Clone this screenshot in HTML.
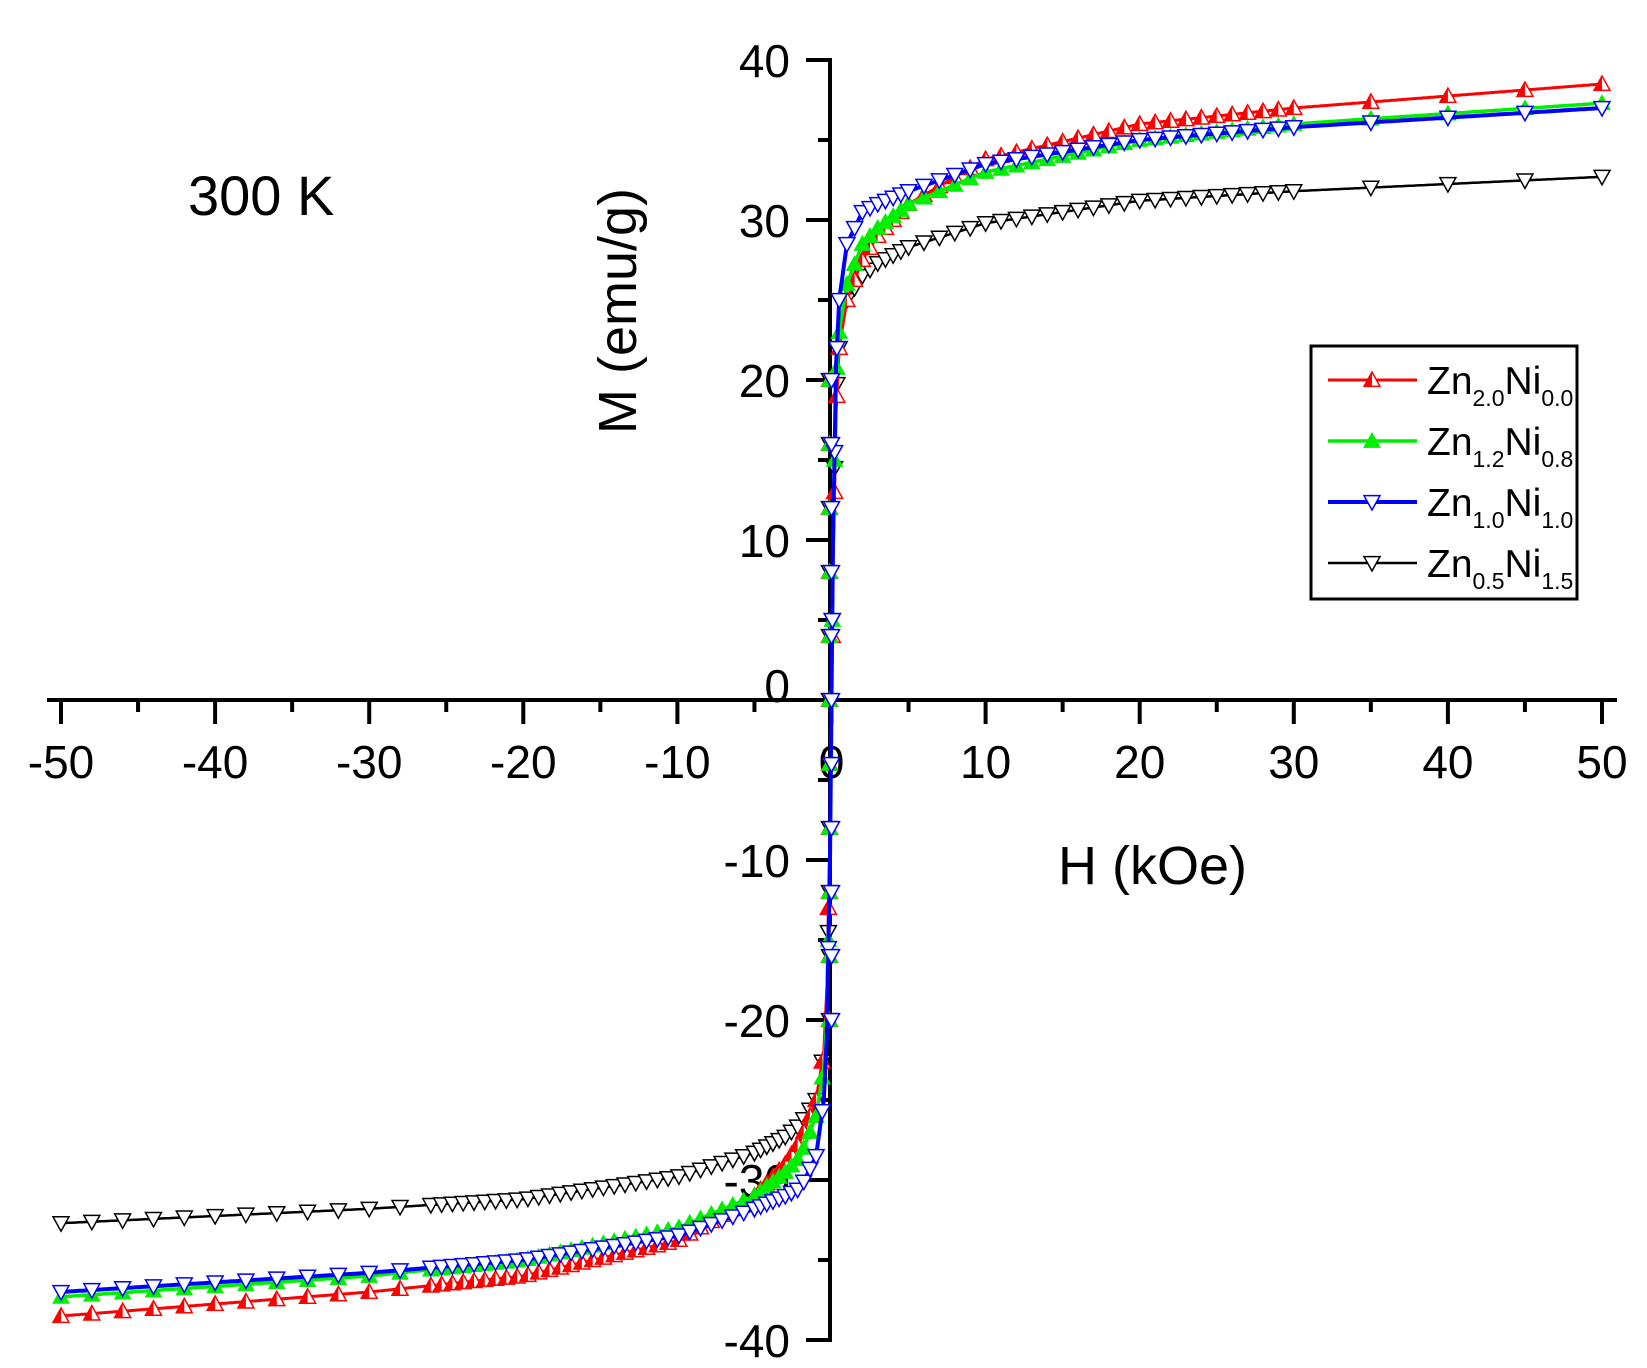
<!DOCTYPE html>
<html><head><meta charset="utf-8"><style>
html,body{margin:0;padding:0;background:#fff;}
svg{display:block;}
text{font-family:"Liberation Sans",sans-serif;fill:#000;}
</style></head><body>
<svg id="s" xmlns="http://www.w3.org/2000/svg" width="1647" height="1368" viewBox="0 0 1647 1368">
<rect width="1647" height="1368" fill="#fff"/>
<g id="axes"></g>
<g id="data"></g>
<text x="188" y="215" font-size="56">300 K</text>
<text x="1058" y="884" font-size="54">H (kOe)</text>
<text transform="translate(636,311) rotate(-90)" font-size="54" text-anchor="middle">M (emu/g)</text>
<g id="legend">
<rect x="1311" y="346" width="266" height="253" fill="#fff" stroke="#000" stroke-width="3"/>
</g>
</svg>
<script>
const NS="http://www.w3.org/2000/svg";
function el(p,t,a){const e=document.createElementNS(NS,t);for(const k in a)e.setAttribute(k,a[k]);p.appendChild(e);return e;}
const X0=831.5,SX=15.41,Y0=700,SY=16;
const px=h=>X0+h*SX, py=m=>Y0-m*SY;
const ax=document.getElementById('axes');
el(ax,'line',{x1:47,y1:700,x2:1617,y2:700,stroke:'#000','stroke-width':4});
el(ax,'line',{x1:830,y1:58,x2:830,y2:1342,stroke:'#000','stroke-width':4});
for(let h=-50;h<=50;h+=5){const x=px(h);const maj=h%10===0;
 el(ax,'line',{x1:x,y1:700,x2:x,y2:maj?724:712,stroke:'#000','stroke-width':4});
 if(maj){const t=el(ax,'text',{x:x,y:778,'font-size':46,'text-anchor':'middle'});t.textContent=String(h);}}
for(let m=-40;m<=40;m+=5){const y=py(m);const maj=m%10===0;
 el(ax,'line',{x1:maj?806:818,y1:y,x2:830,y2:y,stroke:'#000','stroke-width':4});
 if(maj){const t=el(ax,'text',{x:790,y:y+(m===0?2:17),'font-size':46,'text-anchor':'end'});t.textContent=String(m);}}
const H=[0,0.1,0.3,0.5,1,2,3,5,10,20,30,50];
const S={
red:[0,8,18,22,25,27.5,29,31,33.8,36,37,38.5],
green:[0,10,20,23,26,28.5,29.5,31,33,35,36,37.3],
blue:[0,10,21,25,28.5,30.5,31,31.8,33.5,35,35.8,37],
black:[0,10,19,22,25,26.5,27.3,28.3,29.8,31.2,31.8,32.7]};
function f(v,h){const a=Math.abs(h),s=h<0?-1:1;for(let i=1;i<H.length;i++){if(a<=H[i]){const t=(a-H[i-1])/(H[i]-H[i-1]);return s*(v[i-1]+t*(v[i]-v[i-1]));}}return s*v[v.length-1];}
let pts=[];
for(let h=0.05;h<0.5;h+=0.15)pts.push(h);
for(let h=0.5;h<5;h+=0.5)pts.push(h);
for(let h=5;h<30;h+=1)pts.push(h);
for(let h=30;h<=50;h+=5)pts.push(h);
let neg=[];
for(let h=-50;h<-26;h+=2)neg.push(h);
for(let h=-26;h<-5;h+=0.7)neg.push(h);
for(let h=-5;h<0;h+=0.4)neg.push(h);
const all=neg.concat(pts);
const d=document.getElementById('data');
function marker(g,x,y,type,color){
 const r=8;
 if(type==='up'||type==='upf'||type==='uph'){
  const p=`${x},${y-r} ${x+r},${y+r*0.8} ${x-r},${y+r*0.8}`;
  if(type==='uph'){el(g,'polygon',{points:p,fill:'#fff',stroke:color,'stroke-width':1.5});
   el(g,'polygon',{points:`${x},${y-r} ${x},${y+r*0.8} ${x-r},${y+r*0.8}`,fill:color});}
  else el(g,'polygon',{points:p,fill:color,stroke:color,'stroke-width':1});
 } else {
  const p=`${x},${y+r} ${x+r},${y-r*0.8} ${x-r},${y-r*0.8}`;
  el(g,'polygon',{points:p,fill:'#fff',stroke:color,'stroke-width':1.5});
 }}
const ser=[['black','#000','down',2.5],['red','#f00','uph',3],['green','#0e0','upf',3.5],['blue','#00f','down',4]];
for(const [k,c,t,w] of ser){
 const g=el(d,'g',{});
 let dd='';
 const dense=[];for(let h=-50;h<=50;h+=0.1)dense.push(Math.abs(h)<0.02?0:h);
 dense.forEach((h,i)=>{dd+=(i?'L':'M')+px(h).toFixed(1)+','+py(f(S[k],h)).toFixed(1);});
 el(g,'path',{d:dd,fill:'none',stroke:c,'stroke-width':w});
 for(const h of all)marker(g,px(h),py(f(S[k],h)),t,c);
 for(let m=-20;m<=20;m+=4){
  marker(g,px(0)+(k==='blue'?0:-2),py(m),t,c);}
}
const lg=document.getElementById('legend');
const names=[['2.0','0.0'],['1.2','0.8'],['1.0','1.0'],['0.5','1.5']];
const lc=[['#f00','uph',3],['#0e0','upf',3.5],['#00f','down',4],['#000','down',2.5]];
for(let i=0;i<4;i++){const y=380+i*61;
 el(lg,'line',{x1:1328,y1:y,x2:1417,y2:y,stroke:lc[i][0],'stroke-width':lc[i][2]});
 marker(lg,1372,y,lc[i][1],lc[i][0]);
 const t=el(lg,'text',{x:1427,y:y+14,'font-size':39});
 t.innerHTML=`Zn<tspan font-size="23" dy="12">${names[i][0]}</tspan><tspan dy="-12">Ni</tspan><tspan font-size="23" dy="12">${names[i][1]}</tspan>`;
}
</script>
</body></html>
